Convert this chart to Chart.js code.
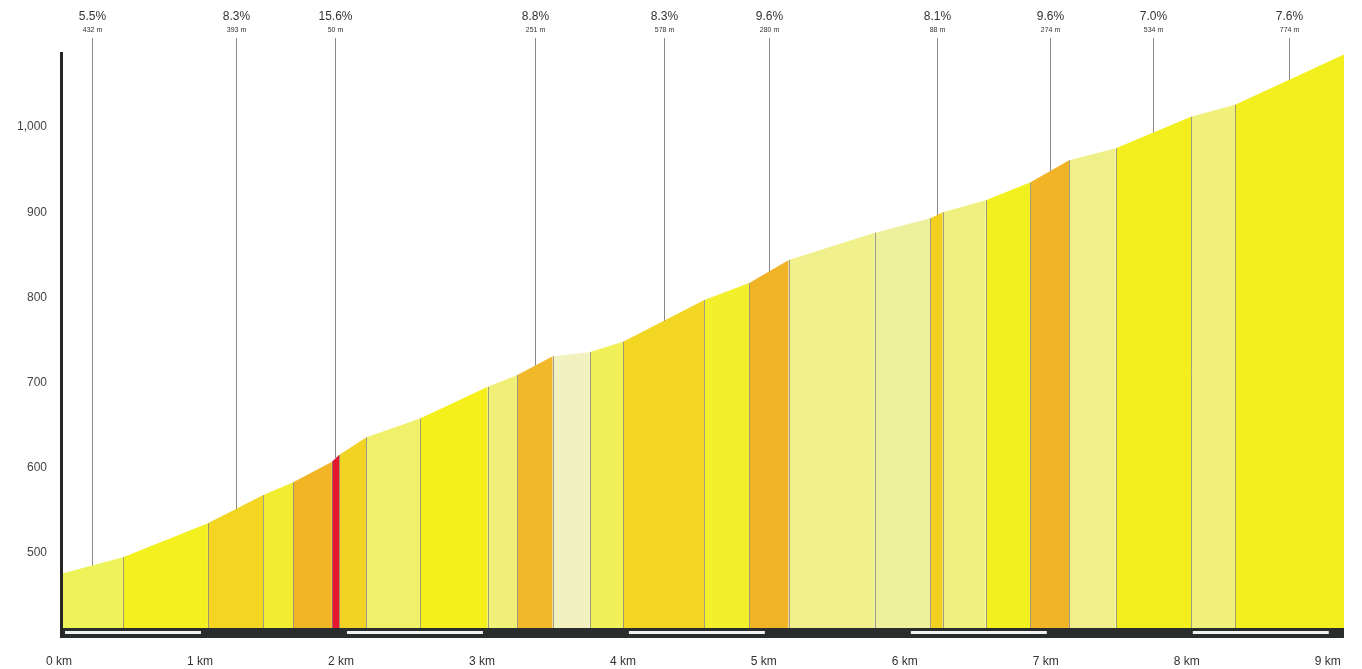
<!DOCTYPE html>
<html>
<head>
<meta charset="utf-8">
<script src="https://cdn.jsdelivr.net/npm/chart.js@4.4.1/dist/chart.umd.min.js"></script>
<style>
  html, body { margin:0; padding:0; background:#fff; }
  canvas { display:block; }
</style>
</head>
<body>
<canvas id="profileChart" width="1362" height="669"></canvas>
<script>
// segment boundaries (km) and elevation at each boundary (m)
const distKm = [0, 0.432, 1.035, 1.428, 1.64, 1.915, 1.965, 2.16, 2.54, 3.02, 3.23, 3.481, 3.745, 3.98,
                4.556, 4.875, 5.155, 5.766, 6.16, 6.248, 6.553, 6.87, 7.144, 7.475, 8.009, 8.32, 9.094];
const elevM  = [476, 495, 535, 568, 583, 607, 615, 636, 658, 695, 709, 731, 736, 748,
                797, 817, 844, 876, 893, 900, 914, 935, 961, 975, 1012, 1026, 1085];

// fill colour of each segment (by gradient class)
const segColors = ['#eef35a', '#f4ef1e', '#f3d522', '#f1ee32', '#f1b526', '#e5162e', '#f2d323',
                   '#f0f06a', '#f5f01c', '#f0f078', '#f1b82a', '#f2f2c0', '#f0f058', '#f3d524',
                   '#f2ef2c', '#f1b326', '#f0f08c', '#eef09c', '#f3d020', '#f0f080', '#f3f020',
                   '#f1b426', '#f0f08a', '#f3ef1e', '#f0f07a', '#f3ef1e'];

// labelled climbs: segment index, gradient, length
const markSeg   = [0, 2, 5, 10, 13, 15, 18, 21, 23, 25];
const markGrade = ['5.5%', '8.3%', '15.6%', '8.8%', '8.3%', '9.6%', '8.1%', '9.6%', '7.0%', '7.6%'];
const markLen   = ['432 m', '393 m', '50 m', '251 m', '578 m', '280 m', '88 m', '274 m', '534 m', '774 m'];

const kmTicks = [0, 1, 2, 3, 4, 5, 6, 7, 8, 9];

const FONT = "'Liberation Sans', Arial, sans-serif";

let datasets = [];
for (let i = 0; i < distKm.length - 1; i++) {
    datasets.push({
        data: [{x: distKm[i], y: elevM[i]}, {x: distKm[i + 1], y: elevM[i + 1]}],
        backgroundColor: segColors[i],
        borderWidth: 0,
        pointRadius: 0,
        fill: 'start',
        tension: 0
    });
}

const decor = {
    id: 'decor',
    afterDatasetsDraw(chart) {
        const ctx = chart.ctx, xs = chart.scales.x, ys = chart.scales.y, area = chart.chartArea;
        ctx.save();
        // separators between segments
        ctx.strokeStyle = 'rgba(130,130,130,0.75)';
        ctx.lineWidth = 1;
        for (let i = 1; i < distKm.length - 1; i++) {
            const px = Math.round(xs.getPixelForValue(distKm[i])) + 0.5;
            ctx.beginPath();
            ctx.moveTo(px, area.bottom);
            ctx.lineTo(px, ys.getPixelForValue(elevM[i]));
            ctx.stroke();
        }
        // labelled marks
        for (let k = 0; k < markSeg.length; k++) {
            const i = markSeg[k];
            const mid = (distKm[i] + distKm[i + 1]) / 2;
            const e = (elevM[i] + elevM[i + 1]) / 2;
            const px = Math.round(xs.getPixelForValue(mid)) + 0.5;
            ctx.strokeStyle = '#8a8a8a';
            ctx.beginPath();
            ctx.moveTo(px, 38);
            ctx.lineTo(px, ys.getPixelForValue(e));
            ctx.stroke();
            ctx.fillStyle = '#333';
            ctx.textAlign = 'center';
            ctx.textBaseline = 'middle';
            ctx.font = '12px ' + FONT;
            ctx.fillText(markGrade[k], px, 17);
            ctx.font = '7px ' + FONT;
            ctx.fillText(markLen[k], px, 30);
        }
        ctx.restore();
    },
    afterDraw(chart) {
        const ctx = chart.ctx, xs = chart.scales.x, area = chart.chartArea;
        ctx.save();
        // km band under the profile
        ctx.fillStyle = '#2a2d2d';
        ctx.fillRect(area.left - 2, area.bottom, area.right - area.left + 2, 10);
        ctx.fillStyle = '#f2f2f2';
        for (let k = 0; k < kmTicks.length - 1; k += 2) {
            const a = xs.getPixelForValue(kmTicks[k]) + 3;
            const b = xs.getPixelForValue(kmTicks[k + 1]) - 2;
            ctx.fillRect(a, area.bottom + 3, b - a, 3);
        }
        // left axis
        ctx.fillStyle = '#262626';
        ctx.fillRect(area.left - 2, area.top, 3, area.bottom + 10 - area.top);
        ctx.restore();
    }
};

const chart = new Chart(document.getElementById('profileChart'), {
    type: 'line',
    data: { datasets: datasets },
    options: {
        responsive: false,
        animation: false,
        layout: { padding: { top: 52, right: 18, left: 0, bottom: 0 } },
        plugins: { legend: { display: false }, tooltip: { enabled: false } },
        scales: {
            x: {
                type: 'linear',
                min: 0,
                max: distKm[distKm.length - 1],
                afterFit: s => { s.height = 41; s.paddingLeft = 0; s.paddingRight = 0; },
                afterBuildTicks: s => { s.ticks = kmTicks.map(v => ({value: v})); },
                grid: { display: false, drawTicks: false },
                border: { display: false },
                ticks: {
                    padding: 26,
                    labelOffset: -3,
                    color: '#333',
                    font: { family: FONT, size: 12 },
                    callback: v => v + ' km'
                }
            },
            y: {
                min: 412,
                max: 1088,
                afterFit: s => { s.width = 62; },
                grid: { display: false, drawTicks: false },
                border: { display: false },
                ticks: {
                    stepSize: 100,
                    includeBounds: false,
                    padding: 15,
                    color: '#444',
                    font: { family: FONT, size: 12 },
                    callback: v => v.toLocaleString('en-US')
                }
            }
        }
    },
    plugins: [decor]
});
</script>
</body>
</html>
